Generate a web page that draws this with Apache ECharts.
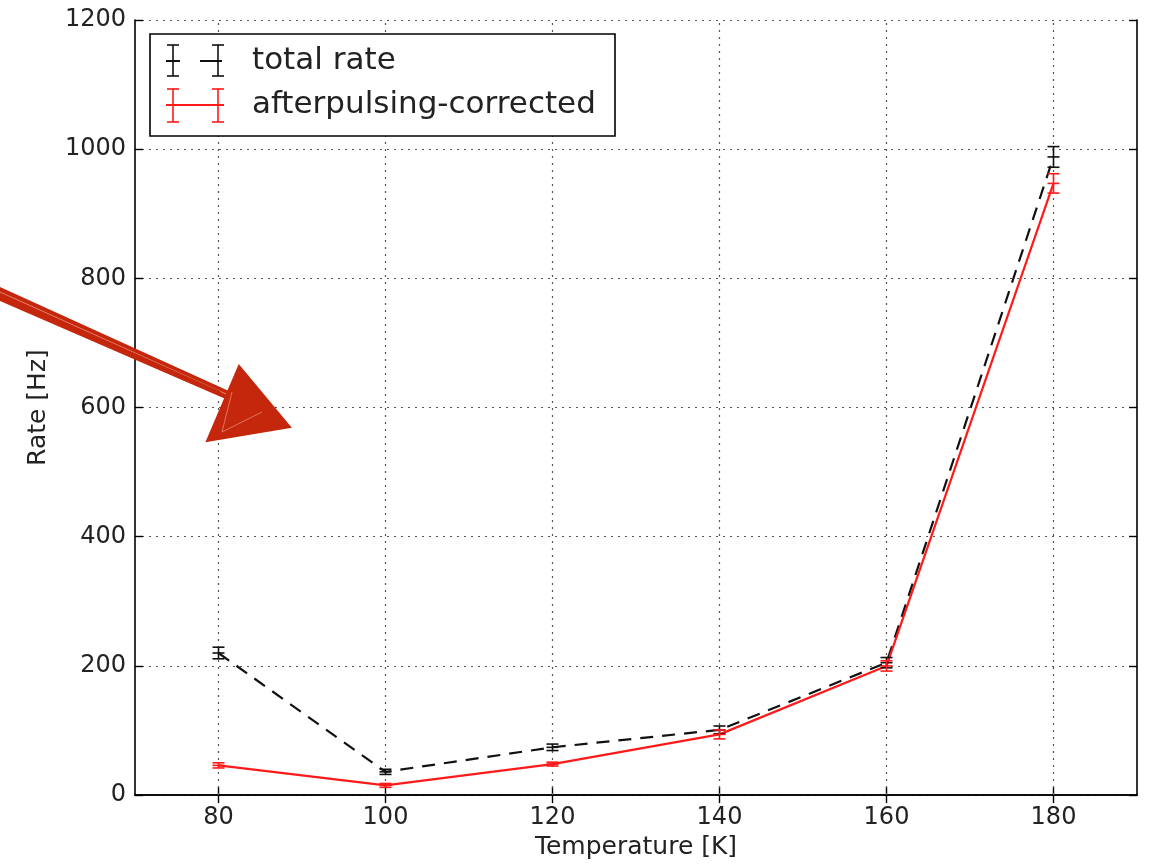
<!DOCTYPE html>
<html>
<head>
<meta charset="utf-8">
<script src="https://cdn.jsdelivr.net/npm/echarts@6/dist/echarts.min.js"></script>
<style>
html,body{margin:0;padding:0;background:#fff;}
#chart{width:1151px;height:865px;}
</style>
</head>
<body>
<div id="chart"></div>
<script>
// ---- data ----
const temperatures = [80, 100, 120, 140, 160, 180];
const totalRate = [220, 36, 74, 101, 205, 988];
const totalRateErr = [9, 4, 5, 6, 8, 16];
const correctedRate = [46, 15, 48, 94, 200, 947];
const correctedRateErr = [4, 3, 3, 7, 8, 15];
const xTicks = [80, 100, 120, 140, 160, 180];
const yTicks = [0, 200, 400, 600, 800, 1000, 1200];
const seriesNames = ['total rate', 'afterpulsing-corrected'];

const chart = echarts.init(document.getElementById('chart'));

function pairs(xs, ys) { return xs.map((x, i) => [x, ys[i]]); }
function errData(xs, ys, es) { return xs.map((x, i) => [x, ys[i], es[i]]); }

function errRender(color) {
  return function (params, api) {
    const x = api.value(0), y = api.value(1), e = api.value(2);
    const lo = api.coord([x, y - e]);
    const hi = api.coord([x, y + e]);
    const c = api.coord([x, y]);
    const w = 6;
    const st = { stroke: color, lineWidth: 1.6 };
    return {
      type: 'group',
      children: [
        { type: 'line', shape: { x1: c[0], y1: lo[1], x2: c[0], y2: hi[1] }, style: st },
        { type: 'line', shape: { x1: c[0] - w, y1: lo[1], x2: c[0] + w, y2: lo[1] }, style: st },
        { type: 'line', shape: { x1: c[0] - w, y1: hi[1], x2: c[0] + w, y2: hi[1] }, style: st },
        { type: 'line', shape: { x1: c[0] - w, y1: c[1], x2: c[0] + w, y2: c[1] }, style: st }
      ]
    };
  };
}

const gridLineStyle = { color: '#555', type: [2, 5], width: 1.2 };
const gridMarkData = xTicks.map(v => ({ xAxis: v }));

const tickFont = { fontFamily: 'DejaVu Sans', fontSize: 24, color: '#222' };
const titleFont = { fontFamily: 'DejaVu Sans', fontSize: 25, color: '#222' };

const option = {
  backgroundColor: '#fff',
  animation: false,
  grid: { left: 135, top: 20, width: 1002, height: 778, containLabel: false },
  xAxis: [
    {
      type: 'value', min: 70, max: 190, position: 'bottom',
      name: 'Temperature [K]', nameLocation: 'middle', nameGap: 38,
      nameTextStyle: titleFont,
      axisLine: { show: true, lineStyle: { color: '#000', width: 1.6 } },
      axisTick: { show: true, inside: true, length: 8, customValues: xTicks, lineStyle: { color: '#000', width: 1.4 } },
      axisLabel: { customValues: xTicks, margin: 11, ...tickFont },
      splitLine: { show: false }
    },
    {
      type: 'value', min: 70, max: 190, position: 'top',
      axisLine: { show: true, lineStyle: { color: '#000', width: 1.6 } },
      axisTick: { show: true, inside: true, length: 8, customValues: xTicks, lineStyle: { color: '#000', width: 1.4 } },
      axisLabel: { show: false },
      splitLine: { show: false }
    }
  ],
  yAxis: [
    {
      type: 'value', min: 0, max: 1200, interval: 200, position: 'left',
      name: 'Rate [Hz]', nameLocation: 'middle', nameGap: 84,
      nameTextStyle: titleFont,
      axisLine: { show: true, lineStyle: { color: '#000', width: 1.6 } },
      axisTick: { show: true, inside: true, length: 8, lineStyle: { color: '#000', width: 1.4 } },
      axisLabel: { margin: 9, formatter: v => String(v), ...tickFont },
      splitLine: { show: true, lineStyle: gridLineStyle }
    },
    {
      type: 'value', min: 0, max: 1200, interval: 200, position: 'right',
      axisLine: { show: true, lineStyle: { color: '#000', width: 1.6 } },
      axisTick: { show: true, inside: true, length: 8, lineStyle: { color: '#000', width: 1.4 } },
      axisLabel: { show: false },
      splitLine: { show: false }
    }
  ],
  series: [
    {
      name: 'gridlines', type: 'line', data: [], xAxisIndex: 0, yAxisIndex: 0,
      silent: true,
      markLine: {
        silent: true, symbol: 'none', label: { show: false },
        lineStyle: gridLineStyle,
        data: gridMarkData
      }
    },
    {
      name: seriesNames[0], type: 'line', data: pairs(temperatures, totalRate),
      showSymbol: false, symbol: 'none', z: 3,
      lineStyle: { color: '#111', width: 2.2, type: [13, 9] }
    },
    {
      name: seriesNames[1], type: 'line', data: pairs(temperatures, correctedRate),
      showSymbol: false, symbol: 'none', z: 4,
      lineStyle: { color: '#ff1a1a', width: 2.2 }
    },
    {
      type: 'custom', data: errData(temperatures, totalRate, totalRateErr),
      renderItem: errRender('#111'), z: 5
    },
    {
      type: 'custom', data: errData(temperatures, correctedRate, correctedRateErr),
      renderItem: errRender('#ff1a1a'), z: 6
    }
  ],
  graphic: [
    // legend box
    { type: 'rect', shape: { x: 150, y: 34, width: 465, height: 102 }, style: { fill: '#fff', stroke: '#000', lineWidth: 1.6 }, z: 50 },
    // total rate entry
    { type: 'line', shape: { x1: 166, y1: 61, x2: 180, y2: 61 }, style: { stroke: '#111', lineWidth: 2 }, z: 51 },
    { type: 'line', shape: { x1: 200, y1: 61, x2: 222, y2: 61 }, style: { stroke: '#111', lineWidth: 2 }, z: 51 },
    { type: 'line', shape: { x1: 173, y1: 45, x2: 173, y2: 76 }, style: { stroke: '#111', lineWidth: 1.6 }, z: 51 },
    { type: 'line', shape: { x1: 167, y1: 45, x2: 179, y2: 45 }, style: { stroke: '#111', lineWidth: 1.6 }, z: 51 },
    { type: 'line', shape: { x1: 167, y1: 76, x2: 179, y2: 76 }, style: { stroke: '#111', lineWidth: 1.6 }, z: 51 },
    { type: 'line', shape: { x1: 218, y1: 45, x2: 218, y2: 76 }, style: { stroke: '#111', lineWidth: 1.6 }, z: 51 },
    { type: 'line', shape: { x1: 212, y1: 45, x2: 224, y2: 45 }, style: { stroke: '#111', lineWidth: 1.6 }, z: 51 },
    { type: 'line', shape: { x1: 212, y1: 76, x2: 224, y2: 76 }, style: { stroke: '#111', lineWidth: 1.6 }, z: 51 },
    { type: 'text', style: { x: 252, y: 61, text: seriesNames[0], fill: '#222', font: '31px "DejaVu Sans"', textVerticalAlign: 'middle' }, z: 51 },
    // corrected entry
    { type: 'line', shape: { x1: 166, y1: 105, x2: 224, y2: 105 }, style: { stroke: '#ff1a1a', lineWidth: 2 }, z: 51 },
    { type: 'line', shape: { x1: 173, y1: 89, x2: 173, y2: 122 }, style: { stroke: '#ff1a1a', lineWidth: 1.6 }, z: 51 },
    { type: 'line', shape: { x1: 167, y1: 89, x2: 179, y2: 89 }, style: { stroke: '#ff1a1a', lineWidth: 1.6 }, z: 51 },
    { type: 'line', shape: { x1: 167, y1: 122, x2: 179, y2: 122 }, style: { stroke: '#ff1a1a', lineWidth: 1.6 }, z: 51 },
    { type: 'line', shape: { x1: 218, y1: 89, x2: 218, y2: 122 }, style: { stroke: '#ff1a1a', lineWidth: 1.6 }, z: 51 },
    { type: 'line', shape: { x1: 212, y1: 89, x2: 224, y2: 89 }, style: { stroke: '#ff1a1a', lineWidth: 1.6 }, z: 51 },
    { type: 'line', shape: { x1: 212, y1: 122, x2: 224, y2: 122 }, style: { stroke: '#ff1a1a', lineWidth: 1.6 }, z: 51 },
    { type: 'text', style: { x: 252, y: 105, text: seriesNames[1], fill: '#222', font: '31px "DejaVu Sans"', textVerticalAlign: 'middle' }, z: 51 },
    // hand-drawn arrow annotation
    { type: 'polygon', shape: { points: [[0, 287], [0, 301], [228, 400], [231, 392]] }, style: { fill: '#c4270c' }, z: 60 },
    { type: 'polyline', shape: { points: [[0, 292], [226, 394]] }, style: { stroke: '#e5806c', lineWidth: 1 }, z: 61 },
    { type: 'polyline', shape: { points: [[40, 312], [220, 392]] }, style: { stroke: '#c4270c', lineWidth: 1.5 }, z: 61 },
    { type: 'polygon', shape: { points: [[239, 366], [290, 427], [207, 441]] }, style: { fill: '#c4270c', stroke: '#c4270c', lineWidth: 2 }, z: 60 },
    { type: 'polyline', shape: { points: [[232, 392], [222, 432], [262, 412]] }, style: { stroke: '#e0765f', lineWidth: 1 }, z: 61 }
  ]
};
chart.setOption(option);
</script>
</body>
</html>
